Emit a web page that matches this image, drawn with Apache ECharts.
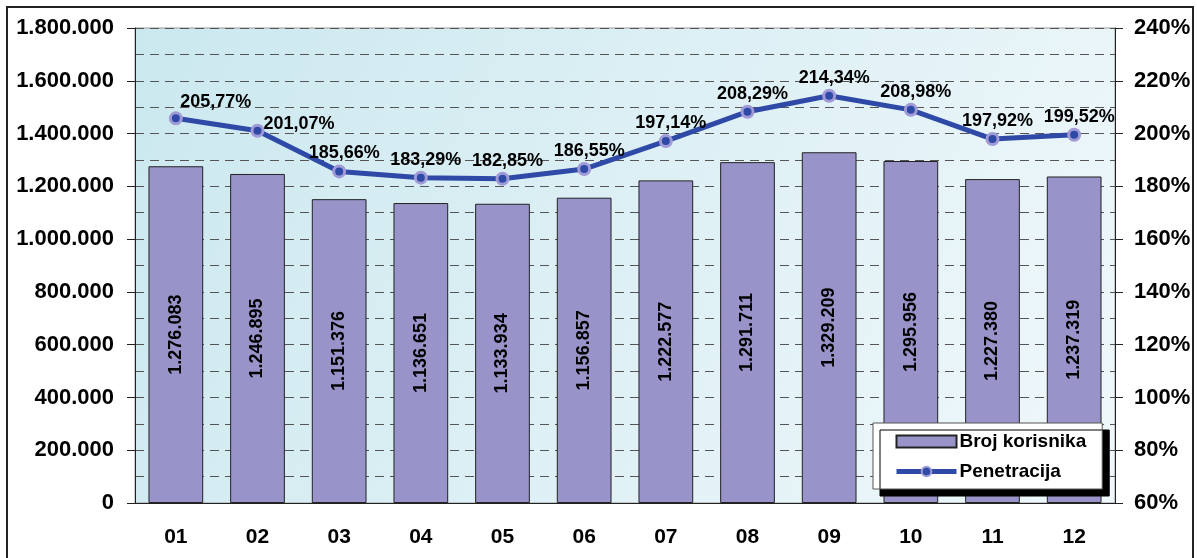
<!DOCTYPE html>
<html>
<head>
<meta charset="utf-8">
<script src="https://cdn.jsdelivr.net/npm/echarts@6/dist/echarts.min.js"></script>
<style>
html,body{margin:0;padding:0;background:#fff;}
#chart{width:1197px;height:558px;}
</style>
</head>
<body>
<div id="chart"></div>
<script>
var months=['01','02','03','04','05','06','07','08','09','10','11','12'];
var korisnici=[1276083,1246895,1151376,1136651,1133934,1156857,1222577,1291711,1329209,1295956,1227380,1237319];
var penetracija=[205.77,201.07,185.66,183.29,182.85,186.55,197.14,208.29,214.34,208.98,197.92,199.52];

function tocke(n){
    return String(n).replace(/\B(?=(\d{3})+(?!\d))/g,'.');
}
function postotak(v){
    return v.toFixed(2).replace('.',',')+'%';
}

var font='"Liberation Sans", Arial, sans-serif';

// a couple of labels sit beside the point instead of above it
var lineData=penetracija.map(function(v,i){
    var item={value:v};
    if(i===0) item.label={offset:[40,5]};
    if(i===1) item.label={position:'right',offset:[-6,-7]};
    return item;
});

var chart=echarts.init(document.getElementById('chart'));
var option={
    animation:false,
    textStyle:{fontFamily:font},
    graphic:[{
        type:'rect',
        shape:{x:7,y:7,width:1186,height:560},
        style:{fill:'none',stroke:'#222',lineWidth:2},
        silent:true
    }],
    grid:{
        left:135,
        right:82,
        top:28,
        bottom:55,
        show:true,
        borderColor:'#999',
        borderWidth:1,
        backgroundColor:{
            type:'linear',x:0,y:0,x2:1,y2:1,
            colorStops:[{offset:0,color:'#cbe8ef'},{offset:1,color:'#f0f8fb'}]
        }
    },
    legend:{
        orient:'vertical',
        left:873,
        top:423,
        width:232,
        padding:[9,16,8,21],
        itemGap:11,
        itemWidth:60,
        itemHeight:12,
        backgroundColor:'#fff',
        borderColor:'#555',
        borderWidth:1,
        shadowColor:'#000',
        shadowOffsetX:7,
        shadowOffsetY:7,
        shadowBlur:0,
        textStyle:{fontSize:19,fontWeight:'bold',color:'#000',fontFamily:font,padding:[0,0,0,-2]},
        data:[
            {name:'Broj korisnika',icon:'rect'},
            {name:'Penetracija',lineStyle:{width:5}}
        ]
    },
    xAxis:{
        type:'category',
        data:months,
        axisLine:{lineStyle:{color:'#222',width:1}},
        axisTick:{lineStyle:{color:'#222'},length:8},
        axisLabel:{fontSize:21,fontWeight:'bold',color:'#000',margin:24}
    },
    yAxis:[{
        type:'value',
        min:0,
        max:1800000,
        interval:200000,
        axisLine:{show:true,lineStyle:{color:'#222'}},
        axisTick:{show:true,length:8,lineStyle:{color:'#222'}},
        axisLabel:{fontSize:22,fontWeight:'bold',color:'#000',margin:21,formatter:function(v){return tocke(v);}},
        splitLine:{show:true,lineStyle:{color:'#555',type:[9,6],width:1}},
        minorTick:{show:false,splitNumber:2},
        minorSplitLine:{show:true,lineStyle:{color:'#555',type:[9,6],width:1}}
    },{
        type:'value',
        min:60,
        max:240,
        interval:20,
        axisLine:{show:true,lineStyle:{color:'#222'}},
        axisTick:{show:true,length:8,lineStyle:{color:'#222'}},
        axisLabel:{fontSize:22,fontWeight:'bold',color:'#000',margin:19,formatter:'{value}%'},
        splitLine:{show:false}
    }],
    series:[{
        name:'Broj korisnika',
        type:'bar',
        data:korisnici,
        barWidth:'67%',
        itemStyle:{color:'#9894c9',borderColor:'#222',borderWidth:1},
        label:{
            show:true,
            position:'inside',
            rotate:90,
            fontSize:18,
            fontWeight:'bold',
            color:'#000',
            formatter:function(p){return tocke(p.value);}
        }
    },{
        name:'Penetracija',
        type:'line',
        yAxisIndex:1,
        data:lineData,
        symbol:'circle',
        symbolSize:11,
        lineStyle:{color:'#2f4aa6',width:5},
        itemStyle:{color:'#2f4aa6',borderColor:'#a09ad6',borderWidth:3},
        label:{
            show:true,
            position:'top',
            offset:[5,3],
            fontSize:18,
            fontWeight:'bold',
            color:'#000',
            formatter:function(p){return postotak(p.value);}
        }
    }]
};
chart.setOption(option);
</script>
</body>
</html>
